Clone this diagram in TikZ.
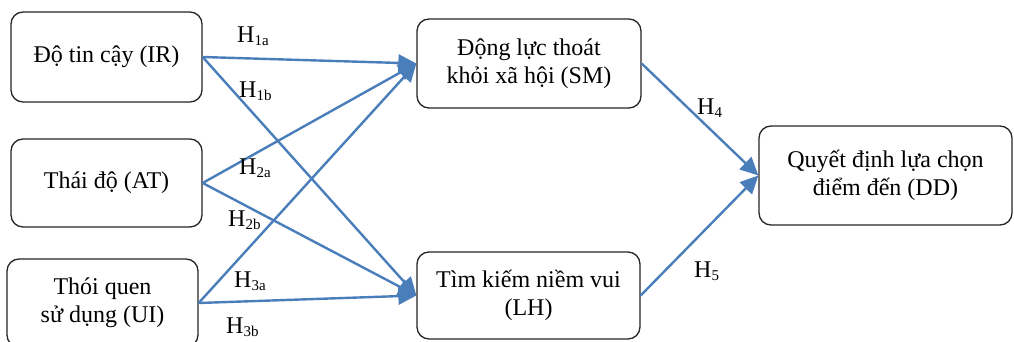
\documentclass[tikz,border=0pt]{standalone}
\usepackage{fontspec}
\setmainfont{Liberation Serif}
\usetikzlibrary{arrows.meta}
\definecolor{arrowblue}{HTML}{4A7EBB}
\newcommand\hypsub[1]{H\raisebox{-3pt}{\fontsize{15}{15}\selectfont #1}}
\begin{document}
\begin{tikzpicture}[x=1pt,y=-1pt,
  box/.style={draw=black!85, line width=1.3pt, rounded corners=12pt, inner sep=0pt,
    align=center, font=\rmfamily\fontsize{24}{28}\selectfont},
  hyp/.style={draw=arrowblue, line width=2.4pt, -{Triangle[length=18pt,width=17pt]}},
  hlab/.style={anchor=base west, inner sep=0pt, font=\rmfamily\fontsize{24}{28}\selectfont}]
\useasboundingbox (0,0) rectangle (1014,342);
\clip (0,0) rectangle (1014,342);
\fill[white] (0,0) rectangle (1014,342);

\node[box, minimum width=191pt, minimum height=90pt] (IR) at (106.5,57) {Độ tin cậy (IR)};
\node[box, minimum width=191pt, minimum height=88pt] (AT) at (106.5,183) {Thái độ (AT)};
\node[box, minimum width=191pt, minimum height=88pt] (UI) at (102.5,303) {Thói quen\\sử dụng (UI)};
\node[box, minimum width=224pt, minimum height=89pt] (SM) at (529,63.5) {Động lực thoát\\khỏi xã hội (SM)};
\node[box, minimum width=223pt, minimum height=87pt] (LH) at (528.5,295.5) {Tìm kiếm niềm vui\\(LH)};
\node[box, minimum width=253pt, minimum height=99pt] (DD) at (885.5,175.5) {Quyết định lựa chọn\\điểm đến (DD)};

\draw[hyp] (IR.east) -- (SM.west);
\draw[hyp] (IR.east) -- (LH.west);
\draw[hyp] (AT.east) -- (SM.west);
\draw[hyp] (AT.east) -- (LH.west);
\draw[hyp] (UI.east) -- (SM.west);
\draw[hyp] (UI.east) -- (LH.west);
\draw[hyp] (SM.east) -- (DD.west);
\draw[hyp] (LH.east) -- (DD.west);

\node[hlab] (h1a) at (237,43) {\hypsub{1a}};
\node[hlab] (h1b) at (239,98) {\hypsub{1b}};
\node[hlab] (h2a) at (239,174) {\hypsub{2a}};
\node[hlab] (h2b) at (228,226) {\hypsub{2b}};
\node[hlab] (h3a) at (234,287) {\hypsub{3a}};
\node[hlab] (h3b) at (226,333) {\hypsub{3b}};
\node[hlab] (h4) at (697,114) {\hypsub{4}};
\node[hlab] (h5) at (694,277) {\hypsub{5}};
\end{tikzpicture}
\end{document}
